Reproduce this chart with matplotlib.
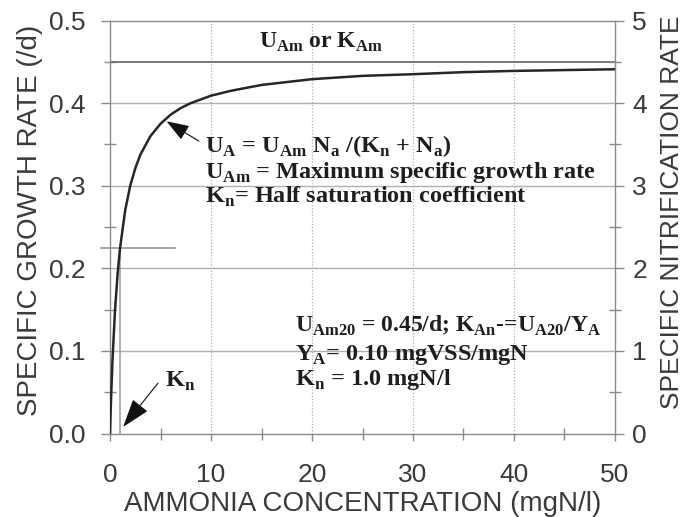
import matplotlib
matplotlib.use("Agg")
import matplotlib.pyplot as plt
import numpy as np

# Monod curve, ammonia concentration (mgN/l) vs specific growth rate (/d)
NH4 = [0, 0.1, 0.25, 0.5, 0.75, 1, 1.5, 2, 2.5, 3, 4, 5, 6, 7, 8,
       10, 12, 15, 20, 25, 30, 35, 40, 45, 50]
GROWTH = [0, 0.041, 0.09, 0.15, 0.193, 0.225, 0.27, 0.30, 0.321, 0.3375,
          0.36, 0.375, 0.386, 0.394, 0.40, 0.409, 0.415, 0.422, 0.429,
          0.433, 0.435, 0.4375, 0.439, 0.44, 0.441]

U_MAX = 0.45
K_N = 1.0
HALF_RATE = 0.225

plt.rcParams["font.family"] = "Liberation Sans"
plt.rcParams["mathtext.fontset"] = "custom"
plt.rcParams["mathtext.rm"] = "Liberation Serif:bold"

GRID = "#b0b0b0"
AXIS = "#8a8a8a"
LABEL = "#3a3a3a"
ANNOT = "#1e1e1e"

fig = plt.figure(figsize=(6.85, 5.17), dpi=100)
ax = fig.add_axes([0.1606, 0.1615, 0.7372, 0.7988])

ax.set_xlim(0, 50)
ax.set_ylim(0, 0.5)

for y in [0.1, 0.2, 0.3, 0.4]:
    ax.axhline(y, color=GRID, lw=1.0, zorder=1)
for x in [10, 20, 30, 40]:
    ax.axvline(x, color=GRID, lw=0.9, ls=(0, (1, 1.5)), zorder=1)

# maximum rate and half-saturation markers
ax.axhline(U_MAX, color="#6f6f6f", lw=1.3, zorder=2)
ax.plot([-0.9, 6.4], [HALF_RATE, HALF_RATE], color="#8c8c8c", lw=1.1,
        clip_on=False, zorder=2)
ax.plot([K_N, K_N], [0, HALF_RATE], color="#9a9a9a", lw=1.1, zorder=2)

ax.plot(NH4, GROWTH, color="#262626", lw=1.8, zorder=3)

ax.set_xticks(np.arange(0, 51, 10))
ax.set_xticks(np.arange(5, 50, 10), minor=True)
ax.set_yticks(np.arange(0, 0.51, 0.1))
ax.set_yticks(np.arange(0.05, 0.5, 0.1), minor=True)
ax.set_yticklabels([f"{v:.1f}" for v in np.arange(0, 0.51, 0.1)])

for s in ax.spines.values():
    s.set_color(AXIS)
    s.set_linewidth(1.0)

ax.tick_params(axis="both", which="major", direction="out", length=6.5,
               width=1.0, color=AXIS, labelsize=19, labelcolor=LABEL)
ax.tick_params(axis="x", which="major", length=5, pad=16)
ax.tick_params(axis="y", which="major", pad=11)
ax.tick_params(axis="both", which="minor", direction="inout", length=8,
               width=1.0, color=AXIS)

ax.set_xlabel("AMMONIA CONCENTRATION (mgN/l)", fontsize=20, color=LABEL,
              labelpad=3)
ax.set_ylabel("SPECIFIC GROWTH RATE (/d)", fontsize=20, color=LABEL)
ax.yaxis.set_label_coords(-0.132, 0.517)

ax2 = ax.twinx()
ax2.set_ylim(0, 5)
ax2.set_yticks(np.arange(0, 6, 1))
ax2.set_yticks(np.arange(0.5, 5, 1), minor=True)
for s in ax2.spines.values():
    s.set_visible(False)
ax2.tick_params(axis="y", which="major", direction="out", length=6.5,
                width=1.0, color=AXIS, labelsize=19, labelcolor=LABEL, pad=6)
ax2.tick_params(axis="y", which="minor", direction="inout", length=8,
                width=1.0, color=AXIS)
ax2.set_ylabel("SPECIFIC NITRIFICATION RATE", fontsize=19, color=LABEL,
               rotation=90)
ax2.yaxis.set_label_coords(1.09, 0.535)

serif = dict(family="Liberation Serif", fontweight="bold", color=ANNOT,
             fontsize=17.5)

ax.text(14.75, 0.467, r"U$_{\mathrm{Am}}$ or K$_{\mathrm{Am}}$",
        **{**serif, "fontsize": 17})

ax.text(9.4, 0.341,
        r"U$_{\mathrm{A}}$ = U$_{\mathrm{Am}}$ N$_{\mathrm{a}}$ /(K$_{\mathrm{n}}$ + N$_{\mathrm{a}}$)",
        **serif)
ax.text(9.4, 0.309, r"U$_{\mathrm{Am}}$ = Maximum specific growth rate", **serif)
ax.text(9.4, 0.279, r"K$_{\mathrm{n}}$= Half saturation coefficient", **serif)

ax.text(18.3, 0.123,
        r"U$_{\mathrm{Am20}}$ = 0.45/d; K$_{\mathrm{An}}$-=U$_{\mathrm{A20}}$/Y$_{\mathrm{A}}$",
        **{**serif, "fontsize": 17})
ax.text(18.3, 0.089, r"Y$_{\mathrm{A}}$= 0.10 mgVSS/mgN", **serif)
ax.text(18.3, 0.059, r"K$_{\mathrm{n}}$ = 1.0 mgN/l", **serif)

ax.text(5.45, 0.056, r"K$_{\mathrm{n}}$", **serif)

ax.annotate("", xy=(5.6, 0.378), xytext=(8.8, 0.354), zorder=4,
            arrowprops=dict(arrowstyle="-|>,head_length=1.4,head_width=0.5",
                            color="#111111", lw=0.8, shrinkA=0, shrinkB=0))
ax.annotate("", xy=(1.3, 0.008), xytext=(4.75, 0.061), zorder=4,
            arrowprops=dict(arrowstyle="-|>,head_length=1.8,head_width=0.6",
                            color="#111111", lw=0.8, shrinkA=0, shrinkB=0))

fig.savefig("out.png", dpi=100)
